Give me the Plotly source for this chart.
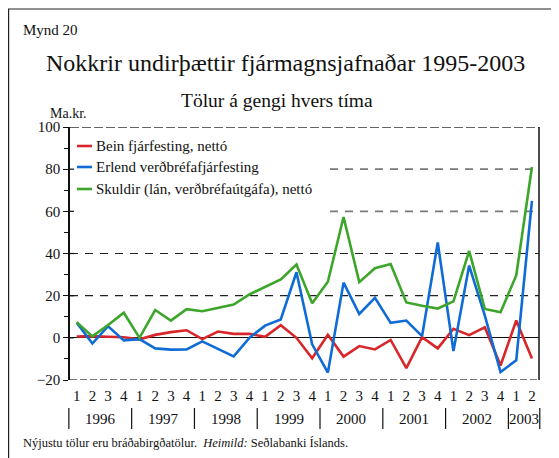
import plotly.graph_objects as go

# ---------------- data ----------------
quarter_labels = ["1", "2", "3", "4"] * 7 + ["1", "2"]
year_labels = ["1996", "1997", "1998", "1999", "2000", "2001", "2002", "2003"]
series_names = [
    "Bein fjárfesting, nettó",
    "Erlend verðbréfafjárfesting",
    "Skuldir (lán, verðbréfaútgáfa), nettó",
]
bein = [0.6, 0.8, 0.5, 0.3, -0.7, 1.4, 2.7, 3.6, -0.6, 3.0, 1.9, 1.9, 0.5, 6.0, 0.0,
        -9.7, 1.5, -8.9, -3.9, -5.5, -1.0, -14.4, 0.3, -5.0, 4.3, 1.3, 5.0, -13.1, 8.2, -9.8]
erlend = [7.2, -2.7, 5.5, -1.2, -0.6, -5.0, -5.6, -5.5, -1.7, -5.2, -8.8, 0.0, 5.8, 8.7, 31.1,
          -3.1, -16.5, 26.2, 11.3, 19.0, 7.1, 8.2, 0.8, 45.2, -6.3, 34.3, 10.5, -16.2, -10.7, 65.0]
skuldir = [7.4, 0.7, 6.1, 11.9, 0.0, 13.2, 8.2, 13.6, 12.6, 14.2, 15.8, 20.6, 24.3, 27.7, 34.8,
           16.4, 26.6, 57.3, 26.4, 33.0, 35.0, 16.8, 15.2, 13.9, 17.3, 41.2, 13.7, 12.1, 29.6, 81.0]
y_ticks = [-20, 0, 20, 40, 60, 80, 100]

colors = ["#d8262a", "#0f6bd6", "#3ca52a"]
series = [bein, erlend, skuldir]

OFF = 8  # page body margin
W, H = 559 - OFF, 458 - OFF
L, T = 70 - OFF, 127 - OFF
R = W - (539 - OFF)
B = H - (380 - OFF)
PW, PH = W - L - R, H - T - B
X_RANGE = [-0.427, 29.45]
Y_RANGE = [-20, 100]
FONT = "Liberation Serif, Times New Roman, serif"


def px_x(p):
    return (p - OFF - L) / PW


def px_y(p):
    return (H - B - (p - OFF)) / PH


def idx_to_paper(i):
    return (i - X_RANGE[0]) / (X_RANGE[1] - X_RANGE[0])


x = list(range(len(quarter_labels)))

fig = go.Figure()
for name, vals, col in zip(series_names, series, colors):
    fig.add_trace(go.Scatter(x=x, y=vals, mode="lines", name=name,
                             line=dict(color=col, width=2.6), showlegend=False))

shapes = []
# gridlines
for yv in [20, 40]:
    shapes.append(dict(type="line", xref="paper", yref="y", x0=0, x1=1, y0=yv, y1=yv,
                       line=dict(color="#222", width=1.2, dash="8px,7px"), layer="below"))
for yv in [60, 80]:
    shapes.append(dict(type="line", xref="paper", yref="y", x0=px_x(330), x1=1, y0=yv, y1=yv,
                       line=dict(color="#7a7a7a", width=1.6, dash="8px,7px"), layer="below"))
# inner part of the major y ticks (they cross the axis)
for yv in y_ticks[1:-1]:
    shapes.append(dict(type="line", xref="paper", yref="y", x0=0, x1=px_x(74), y0=yv, y1=yv,
                       line=dict(color="#111", width=1.2)))
# top (100) and bottom (-20) borders
shapes.append(dict(type="line", xref="paper", yref="y", x0=0, x1=1, y0=100, y1=100,
                   line=dict(color="#333", width=1.5, dash="9px,3px")))
shapes.append(dict(type="line", xref="paper", yref="y", x0=0, x1=1, y0=-20, y1=-20,
                   line=dict(color="#777", width=2.2, dash="7px,3px")))
# right border
shapes.append(dict(type="line", xref="paper", yref="paper", x0=1, x1=1, y0=0, y1=1,
                   line=dict(color="#111", width=1.5)))
# year separators
for k in range(len(year_labels)):
    xp = idx_to_paper(4 * k - 0.5)
    shapes.append(dict(type="line", xref="paper", yref="paper", x0=xp, x1=xp,
                       y0=px_y(408), y1=px_y(429), line=dict(color="#111", width=1.2)))
xp = idx_to_paper(len(x) - 0.5)
shapes.append(dict(type="line", xref="paper", yref="paper", x0=xp, x1=xp,
                   y0=px_y(408), y1=px_y(429), line=dict(color="#111", width=1.2)))
# outer frame (top and left)
shapes.append(dict(type="line", xref="paper", yref="paper", x0=px_x(8), x1=px_x(559),
                   y0=px_y(9), y1=px_y(9), line=dict(color="#222", width=1.2)))
shapes.append(dict(type="line", xref="paper", yref="paper", x0=px_x(8.6), x1=px_x(8.6),
                   y0=px_y(9), y1=px_y(458), line=dict(color="#222", width=1.2)))

annotations = []
# custom legend
leg_y = [146, 167, 189]
for name, col, yy in zip(series_names, colors, leg_y):
    shapes.append(dict(type="line", xref="paper", yref="paper", x0=px_x(77), x1=px_x(92),
                       y0=px_y(yy), y1=px_y(yy), line=dict(color=col, width=2.6)))
    annotations.append(dict(text=name, xref="paper", yref="paper", x=px_x(94), y=px_y(yy),
                            xanchor="left", yanchor="middle", showarrow=False,
                            font=dict(family=FONT, size=15, color="#111")))
# year labels
for k, yl in enumerate(year_labels):
    start = 4 * k - 0.5
    end = min(4 * k + 3.5, len(x) - 0.5)
    annotations.append(dict(text=yl, xref="paper", yref="paper", x=idx_to_paper((start + end) / 2),
                            y=px_y(419), xanchor="center", yanchor="middle", showarrow=False,
                            font=dict(family=FONT, size=15, color="#111")))
# texts
annotations += [
    dict(text="Mynd 20", xref="paper", yref="paper", x=px_x(21), y=px_y(30), xanchor="left",
         yanchor="middle", showarrow=False, font=dict(family=FONT, size=15, color="#111")),
    dict(text="Nokkrir undirþættir fjármagnsjafnaðar 1995-2003", xref="paper", yref="paper",
         x=px_x(285), y=px_y(63), xanchor="center", yanchor="middle", showarrow=False,
         font=dict(family=FONT, size=24, color="#111")),
    dict(text="Tölur á gengi hvers tíma", xref="paper", yref="paper",
         x=px_x(277), y=px_y(101), xanchor="center", yanchor="middle", showarrow=False,
         font=dict(family=FONT, size=19.5, color="#111")),
    dict(text="Ma.kr.", xref="paper", yref="paper", x=px_x(48), y=px_y(113), xanchor="left",
         yanchor="middle", showarrow=False, font=dict(family=FONT, size=14, color="#111")),
    dict(text="Nýjustu tölur eru bráðabirgðatölur.\u00a0 <i>Heimild:</i> Seðlabanki Íslands.",
         xref="paper", yref="paper", x=px_x(21), y=px_y(443), xanchor="left", yanchor="middle",
         showarrow=False, font=dict(family=FONT, size=12.5, color="#111")),
]

fig.update_layout(
    width=W, height=H,
    margin=dict(l=L, r=R, t=T, b=B, pad=0),
    paper_bgcolor="white", plot_bgcolor="white",
    font=dict(family=FONT, size=15, color="#111"),
    showlegend=False,
    shapes=shapes,
    annotations=annotations,
    xaxis=dict(range=X_RANGE, tickmode="array", tickvals=x, ticktext=quarter_labels,
               ticks="", showgrid=False, zeroline=False, showline=False,
               tickfont=dict(family=FONT, size=15, color="#111"), ticklabelstandoff=5),
    yaxis=dict(range=Y_RANGE, tickmode="array", tickvals=y_ticks, ticks="outside", ticklen=5,
               tickcolor="#111", tickwidth=1.2, showgrid=False, showline=True, linecolor="#111",
               linewidth=1.5, zeroline=True, zerolinecolor="#111", zerolinewidth=1.3,
               tickfont=dict(family=FONT, size=15, color="#111"),
               minor=dict(dtick=10, ticks="outside", ticklen=4, tickcolor="#111", tickwidth=1.2)),
)

fig.write_html("out.html")
